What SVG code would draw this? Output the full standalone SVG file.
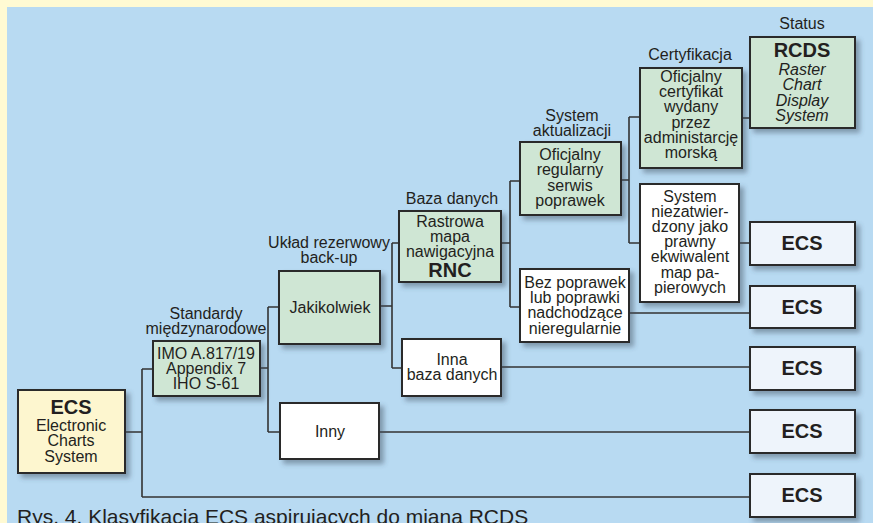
<svg xmlns="http://www.w3.org/2000/svg" width="873" height="523" viewBox="0 0 873 523">
  <defs>
    <filter id="shadow" x="-20%" y="-20%" width="150%" height="150%">
      <feDropShadow dx="4" dy="4" stdDeviation="2.5" flood-color="#3a4a5a" flood-opacity="0.45"/>
    </filter>
    <style>
      .box { stroke: #2b2b2b; stroke-width: 2; filter: url(#shadow); }
      .green { fill: #cfe6d4; }
      .white { fill: #ffffff; }
      .ecs { fill: #eef4fb; }
      .root { fill: #fdf6cf; }
      text { font-family: "Liberation Sans", Arial, sans-serif; fill: #231f20; }
      .t { font-size: 16px; text-anchor: middle; }
      .b { font-size: 20px; font-weight: bold; text-anchor: middle; }
      .i { font-size: 16px; font-style: italic; text-anchor: middle; }
      .lab { font-size: 16px; text-anchor: middle; }
      .conn { fill: none; stroke: #333333; stroke-width: 1.6; }
    </style>
  </defs>

  <!-- page background -->
  <rect x="0" y="0" width="873" height="523" fill="#fffad3"/>
  <rect x="7" y="7" width="866" height="516" fill="#b8daf2"/>

  <!-- connectors -->
  <g id="connectors" class="conn">
    <path d="M125 432 H142 M142 369 V497 M142 369 H153 M142 497 H750"/>
    <path d="M260 368 H268 M268 307 V432 M268 307 H279 M268 432 H280 M379 432 H750"/>
    <path d="M380 306 H392 M392 243 V368 M392 243 H399 M392 368 H402 M501 367 H750"/>
    <path d="M501 243 H510 M510 181 V307 M510 181 H520 M510 307 H520 M629 313 H750"/>
    <path d="M621 180 H629 M629 117 V243 M629 117 H640 M629 243 H640 M739 243 H750 M742 118 H750"/>
  </g>

  <!-- column headings -->
  <g id="headings">
    <text class="lab" x="802" y="29">Status</text>
    <text class="lab" x="690" y="60">Certyfikacja</text>
    <text class="lab" x="572" y="121">System</text>
    <text class="lab" x="572" y="136">aktualizacji</text>
    <text class="lab" x="452" y="204">Baza danych</text>
    <text class="lab" x="329" y="248">Układ rezerwowy</text>
    <text class="lab" x="329" y="263">back-up</text>
    <text class="lab" x="206" y="319">Standardy</text>
    <text class="lab" x="206" y="334">międzynarodowe</text>
  </g>

  <g id="node-ecs-root">
    <rect class="box root" x="18" y="390" width="107" height="83"/>
    <text class="b" x="71" y="414">ECS</text>
    <text class="t" x="71" y="431">Electronic</text>
    <text class="t" x="71" y="446">Charts</text>
    <text class="t" x="71" y="462">System</text>
  </g>

  <g id="node-imo">
    <rect class="box green" x="153" y="341" width="107" height="55"/>
    <text class="t" x="206" y="359">IMO A.817/19</text>
    <text class="t" x="206" y="374">Appendix 7</text>
    <text class="t" x="206" y="389">IHO S-61</text>
  </g>

  <g id="node-jakikolwiek">
    <rect class="box green" x="279" y="271" width="101" height="73"/>
    <text class="t" x="330" y="313">Jakikolwiek</text>
  </g>

  <g id="node-inny">
    <rect class="box white" x="280" y="403" width="99" height="56"/>
    <text class="t" x="330" y="437">Inny</text>
  </g>

  <g id="node-rnc">
    <rect class="box green" x="399" y="211" width="102" height="71"/>
    <text class="t" x="450" y="227">Rastrowa</text>
    <text class="t" x="450" y="242">mapa</text>
    <text class="t" x="450" y="257">nawigacyjna</text>
    <text class="b" x="450" y="277">RNC</text>
  </g>

  <g id="node-inna-baza">
    <rect class="box white" x="402" y="339" width="99" height="57"/>
    <text class="t" x="452" y="365">Inna</text>
    <text class="t" x="452" y="380">baza danych</text>
  </g>

  <g id="node-serwis">
    <rect class="box green" x="520" y="142" width="101" height="73"/>
    <text class="t" x="570" y="160">Oficjalny</text>
    <text class="t" x="570" y="175">regularny</text>
    <text class="t" x="570" y="191">serwis</text>
    <text class="t" x="570" y="206">poprawek</text>
  </g>

  <g id="node-bez-poprawek">
    <rect class="box white" x="520" y="269" width="109" height="73"/>
    <text class="t" x="575" y="288">Bez poprawek</text>
    <text class="t" x="575" y="303">lub poprawki</text>
    <text class="t" x="575" y="318">nadchodzące</text>
    <text class="t" x="575" y="334">nieregularnie</text>
  </g>

  <g id="node-certyfikat">
    <rect class="box green" x="640" y="68" width="102" height="100"/>
    <text class="t" x="691" y="82">Oficjalny</text>
    <text class="t" x="691" y="97">certyfikat</text>
    <text class="t" x="691" y="112">wydany</text>
    <text class="t" x="691" y="128">przez</text>
    <text class="t" x="691" y="143">administarcję</text>
    <text class="t" x="691" y="158">morską</text>
  </g>

  <g id="node-niezatwierdzony">
    <rect class="box white" x="640" y="184" width="99" height="118"/>
    <text class="t" x="690" y="202">System</text>
    <text class="t" x="690" y="217">niezatwier-</text>
    <text class="t" x="690" y="232">dzony jako</text>
    <text class="t" x="690" y="247">prawny</text>
    <text class="t" x="690" y="262">ekwiwalent</text>
    <text class="t" x="690" y="278">map pa-</text>
    <text class="t" x="690" y="293">pierowych</text>
  </g>

  <g id="node-rcds">
    <rect class="box green" x="750" y="37" width="105" height="91"/>
    <text class="b" x="802" y="57">RCDS</text>
    <text class="i" x="802" y="75">Raster</text>
    <text class="i" x="802" y="90">Chart</text>
    <text class="i" x="802" y="106">Display</text>
    <text class="i" x="802" y="121">System</text>
  </g>

  <g id="node-ecs-1">
    <rect class="box ecs" x="750" y="222" width="105" height="43"/>
    <text class="b" x="802" y="250">ECS</text>
  </g>
  <g id="node-ecs-2">
    <rect class="box ecs" x="750" y="286" width="105" height="42"/>
    <text class="b" x="802" y="314">ECS</text>
  </g>
  <g id="node-ecs-3">
    <rect class="box ecs" x="750" y="347" width="105" height="43"/>
    <text class="b" x="802" y="375">ECS</text>
  </g>
  <g id="node-ecs-4">
    <rect class="box ecs" x="750" y="410" width="105" height="43"/>
    <text class="b" x="802" y="438">ECS</text>
  </g>
  <g id="node-ecs-5">
    <rect class="box ecs" x="750" y="474" width="105" height="43"/>
    <text class="b" x="802" y="502">ECS</text>
  </g>

  <!-- caption -->
  <text x="17" y="524" font-size="21">Rys. 4. Klasyfikacja ECS aspirujących do miana RCDS</text>
</svg>
